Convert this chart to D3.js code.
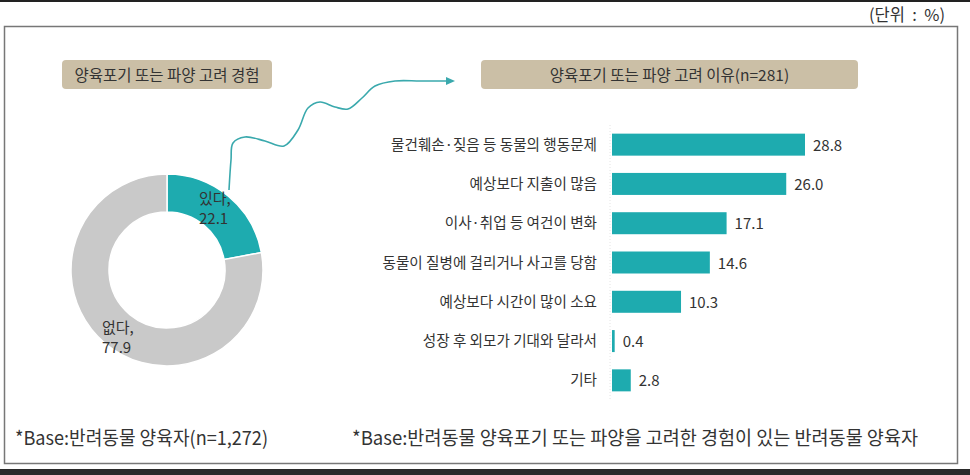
<!DOCTYPE html>
<html><head><meta charset="utf-8">
<script src="https://cdn.jsdelivr.net/npm/d3@7"></script>
<style>
body{margin:0;background:#fff;}
svg{display:block;font-family:'Noto Sans CJK KR','Noto Sans',sans-serif;}
</style></head>
<body><svg id="c" width="970" height="475"></svg>
<script>
// ---- data ----
const leftTitle = "양육포기 또는 파양 고려 경험";
const rightTitle = "양육포기 또는 파양 고려 이유(n=281)";
const donutLabels = ["있다,", "없다,"];
const donutValues = [22.1, 77.9];
const reasons = ["물건훼손·짖음 등 동물의 행동문제", "예상보다 지출이 많음", "이사·취업 등 여건이 변화",
  "동물이 질병에 걸리거나 사고를 당함", "예상보다 시간이 많이 소요", "성장 후 외모가 기대와 달라서", "기타"];
const reasonValues = [28.8, 26.0, 17.1, 14.6, 10.3, 0.4, 2.8];
const unitText = "(단위  :  %)";
const noteLeft = "*Base:반려동물 양육자(n=1,272)";
const noteRight = "*Base:반려동물 양육포기 또는 파양을 고려한 경험이 있는 반려동물 양육자";

const teal = "#1eabaf", gray = "#c9c9c9", tan = "#cbbfa6", ink = "#333";
const svg = d3.select("#c");

// frame
svg.append("rect").attr("x",0).attr("y",0).attr("width",970).attr("height",2).attr("fill","#222");
svg.append("rect").attr("x",0).attr("y",469).attr("width",970).attr("height",6).attr("fill","#2a2a2a");
svg.append("rect").attr("x",4.5).attr("y",26.5).attr("width",953).attr("height",437)
  .attr("fill","none").attr("stroke","#777").attr("stroke-width",1.5);
svg.append("text").attr("x",945).attr("y",21).attr("text-anchor","end").style("white-space","pre")
  .attr("font-size",16.5).attr("fill",ink).text(unitText);

// title boxes
function titleBox(x, w, t){
  svg.append("rect").attr("x",x).attr("y",60).attr("width",w).attr("height",29).attr("rx",4).attr("fill",tan);
  svg.append("text").attr("x",x+w/2).attr("y",80.5).attr("text-anchor","middle")
    .attr("font-size",15.5).attr("fill",ink).text(t);
}
titleBox(62, 210, leftTitle);
titleBox(481, 377, rightTitle);

// donut
const cx = 167, cy = 270;
const pie = d3.pie().sort(null).value(d=>d)(donutValues);
const arc = d3.arc().innerRadius(58).outerRadius(96);
const g = svg.append("g").attr("transform",`translate(${cx},${cy})`);
g.selectAll("path").data(pie).join("path").attr("d",arc)
  .attr("fill",(d,i)=>i===0?teal:gray).attr("stroke","#fff").attr("stroke-width",1.5);
const labelPos = [[199,204],[102,333]];
donutLabels.forEach((l,i)=>{
  const t = svg.append("text").attr("x",labelPos[i][0]).attr("y",labelPos[i][1])
    .attr("font-size",15).attr("fill",ink);
  t.append("tspan").attr("x",labelPos[i][0]).text(l);
  t.append("tspan").attr("x",labelPos[i][0]).attr("dy",20).text(donutValues[i].toFixed(1));
});

// connector arrow
const pts = [[229,190],[231,160],[233,143],[245,137],[265,141],[284,146],[298,130],[308,108],[320,102],[335,107],[348,109],[362,98],[375,86],[395,81],[420,81],[446,81]];
svg.append("path").attr("d", d3.line().curve(d3.curveCatmullRom)(pts))
  .attr("fill","none").attr("stroke","#3aa9ad").attr("stroke-width",1.6);
svg.append("path").attr("d","M446,77 L455,81 L446,85 Z").attr("fill","#3aa9ad");

// bars
const x = d3.scaleLinear().domain([0, 28.8]).range([612, 805]);
const y = d3.scaleBand().domain(reasons).range([125, 400]).paddingInner(0.44).paddingOuter(0.22);
svg.append("line").attr("x1",610).attr("x2",610).attr("y1",125).attr("y2",400)
  .attr("stroke","#e4e4e4").attr("stroke-dasharray","1,2");
svg.selectAll("rect.bar").data(reasons).join("rect").attr("class","bar")
  .attr("x",x(0)).attr("y",d=>y(d)).attr("height",y.bandwidth())
  .attr("width",(d,i)=>Math.max(2, x(reasonValues[i])-x(0))).attr("fill",teal);
svg.selectAll("text.cat").data(reasons).join("text").attr("class","cat")
  .attr("x",597).attr("y",d=>y(d)+y.bandwidth()/2+5).attr("text-anchor","end")
  .attr("font-size",14.6).attr("fill",ink).text(d=>d);
svg.selectAll("text.val").data(reasons).join("text").attr("class","val")
  .attr("x",(d,i)=>Math.max(x(0)+2, x(reasonValues[i]))+8).attr("y",d=>y(d)+y.bandwidth()/2+6)
  .attr("font-size",15).attr("fill",ink).text((d,i)=>reasonValues[i].toFixed(1));

// footnotes
svg.append("text").attr("x",15).attr("y",445).attr("font-size",19).attr("fill",ink)
  .attr("textLength",253).attr("lengthAdjust","spacingAndGlyphs").text(noteLeft);
svg.append("text").attr("x",352).attr("y",445).attr("font-size",19).attr("fill",ink)
  .attr("textLength",566).attr("lengthAdjust","spacingAndGlyphs").text(noteRight);
</script></body></html>
